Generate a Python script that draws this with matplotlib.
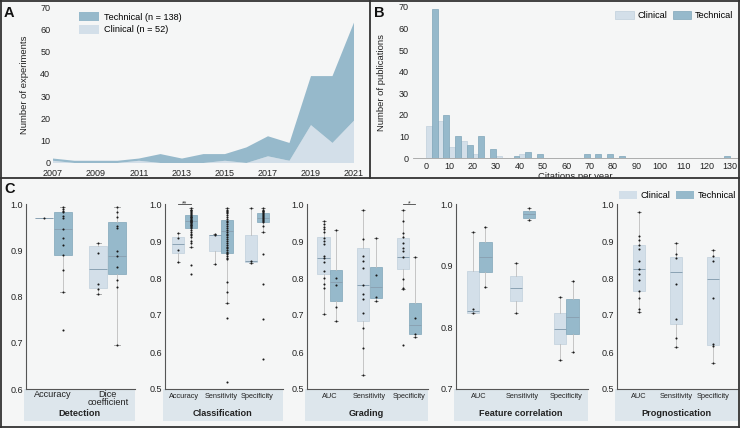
import matplotlib
matplotlib.use("Agg")
import matplotlib.pyplot as plt
from matplotlib.patches import Rectangle
from matplotlib.lines import Line2D
import numpy as np

plt.rcParams['font.family'] = ['Liberation Sans', 'DejaVu Sans']

# ---- panel A: experiments per year
years = [2007, 2008, 2009, 2010, 2011, 2012, 2013, 2014, 2015, 2016, 2017, 2018, 2019, 2020, 2021]
clin_exp = [1, 0, 0, 0, 1, 0, 0, 0, 1, 0, 3, 1, 17, 9, 19]
tech_exp = [1, 1, 1, 1, 1, 4, 2, 4, 3, 7, 9, 8, 22, 30, 44]

# ---- panel B: citations per year (bins of 5)
cit_bins = list(range(0, 130, 5))
clin_pubs = [15, 17, 5, 8, 2, 0, 1, 0, 2, 0, 0, 0, 0, 0, 0, 0, 0, 0, 0, 0, 0, 0, 0, 0, 0, 0]
tech_pubs = [69, 20, 10, 6, 10, 4, 0, 1, 3, 2, 0, 0, 0, 2, 2, 2, 1, 0, 0, 0, 0, 0, 0, 0, 0, 1]

# ---- panel C: box stats (whislo, q1, med, q3, whishi) and points
det_cats = ['Accuracy', 'Dice\ncoefficient']
det_clin_box = [(0.97, 0.97, 0.97, 0.97, 0.97), (0.806, 0.818, 0.860, 0.909, 0.915)]
det_clin_pts = [[0.97], [0.915, 0.895, 0.828, 0.816, 0.806]]
det_tech_box = [(0.81, 0.889, 0.947, 0.982, 0.993), (0.695, 0.849, 0.887, 0.961, 0.993)]
det_tech_pts = [[0.993, 0.99, 0.985, 0.982, 0.975, 0.969, 0.947, 0.927, 0.911, 0.889, 0.858, 0.81, 0.727],
                [0.993, 0.982, 0.971, 0.953, 0.949, 0.898, 0.887, 0.864, 0.836, 0.82, 0.695]]

cls_cats = ['Accuracy', 'Sensitivity', 'Specificity']
cls_clin_box = [(0.844, 0.867, 0.892, 0.910, 0.922), (0.839, 0.874, 0.916, 0.917, 0.920),
                (0.841, 0.844, 0.847, 0.917, 0.988)]
cls_clin_pts = [[0.922, 0.908, 0.876, 0.844], [0.92, 0.916, 0.839], [0.988, 0.847, 0.841]]
cls_tech_box = [(0.885, 0.936, 0.954, 0.970, 0.988), (0.732, 0.867, 0.928, 0.957, 0.988),
                (0.925, 0.952, 0.963, 0.975, 0.988)]
cls_tech_pts = [[0.988, 0.985, 0.983, 0.98, 0.978, 0.975, 0.972, 0.97, 0.968, 0.966, 0.964, 0.962,
                 0.96, 0.958, 0.956, 0.955, 0.953, 0.952, 0.95, 0.948, 0.946, 0.944, 0.942, 0.94,
                 0.938, 0.935, 0.93, 0.925, 0.92, 0.915, 0.91, 0.9, 0.895, 0.885, 0.835, 0.81],
                [0.988, 0.985, 0.982, 0.978, 0.975, 0.97, 0.965, 0.96, 0.955, 0.95, 0.945, 0.94,
                 0.935, 0.93, 0.925, 0.92, 0.915, 0.91, 0.905, 0.9, 0.895, 0.89, 0.885, 0.88,
                 0.875, 0.87, 0.868, 0.865, 0.86, 0.855, 0.85, 0.789, 0.761, 0.732, 0.693, 0.52],
                [0.988, 0.985, 0.982, 0.98, 0.978, 0.975, 0.972, 0.97, 0.968, 0.965, 0.963, 0.96,
                 0.958, 0.955, 0.952, 0.94, 0.925, 0.865, 0.785, 0.69, 0.58]]

grd_cats = ['AUC', 'Sensitivity', 'Specificity']
grd_clin_box = [(0.703, 0.810, 0.855, 0.912, 0.955), (0.539, 0.685, 0.780, 0.881, 0.985),
                (0.769, 0.825, 0.857, 0.908, 0.985)]
grd_clin_pts = [[0.955, 0.946, 0.939, 0.933, 0.923, 0.907, 0.901, 0.892, 0.859, 0.855, 0.842,
                 0.819, 0.799, 0.783, 0.772, 0.703],
                [0.985, 0.905, 0.86, 0.845, 0.828, 0.78, 0.758, 0.742, 0.706, 0.664, 0.611, 0.539],
                [0.985, 0.955, 0.921, 0.91, 0.894, 0.881, 0.872, 0.857, 0.797, 0.774, 0.769, 0.62]]
grd_tech_box = [(0.684, 0.738, 0.790, 0.821, 0.931), (0.738, 0.745, 0.777, 0.831, 0.907),
                (0.640, 0.649, 0.673, 0.733, 0.857)]
grd_tech_pts = [[0.931, 0.801, 0.78, 0.722, 0.684], [0.907, 0.807, 0.749, 0.738],
                [0.857, 0.693, 0.649, 0.64]]

fc_cats = ['AUC', 'Sensitivity', 'Specificity']
fc_clin_box = [(0.823, 0.824, 0.827, 0.892, 0.955), (0.823, 0.843, 0.863, 0.884, 0.905),
               (0.747, 0.773, 0.798, 0.824, 0.850)]
fc_clin_pts = [[0.955, 0.83, 0.824], [0.905, 0.823], [0.85, 0.747]]
fc_tech_box = [(0.866, 0.890, 0.914, 0.939, 0.963), (0.974, 0.978, 0.984, 0.988, 0.994),
               (0.760, 0.789, 0.817, 0.846, 0.875)]
fc_tech_pts = [[0.963, 0.866], [0.994, 0.974], [0.875, 0.76]]

prg_cats = ['AUC', 'Sensitivity', 'Specificity']
prg_clin_box = [(0.708, 0.765, 0.824, 0.888, 0.979), (0.613, 0.676, 0.817, 0.857, 0.895),
                (0.569, 0.620, 0.797, 0.857, 0.875)]
prg_clin_pts = [[0.979, 0.913, 0.902, 0.888, 0.878, 0.846, 0.824, 0.812, 0.795, 0.765, 0.746, 0.717, 0.708],
                [0.895, 0.864, 0.853, 0.783, 0.689, 0.638, 0.613],
                [0.875, 0.86, 0.846, 0.747, 0.622, 0.615, 0.569]]

BG = '#f5f6f6'
BAND = '#dde6ec'
CLIN = '#d3dfe9'
TECH = '#96b9cb'
CLIN_E = '#c0cfdb'
TECH_E = '#7fa5b9'
TXT = '#222222'

W, H = 740, 428
fig = plt.figure(figsize=(W / 100, H / 100), dpi=100, facecolor=BG)


def px_axes(l, t, r, b, **kw):
    return fig.add_axes([l / W, 1 - b / H, (r - l) / W, (b - t) / H], **kw)


def fig_rect(l, t, r, b, color, z):
    fig.add_artist(Rectangle((l / W, 1 - b / H), (r - l) / W, (b - t) / H,
                             transform=fig.transFigure, facecolor=color,
                             edgecolor='none', zorder=z))


# ================= A
axA = px_axes(53, 7, 354, 163)
axA.set_facecolor('none')
axA.stackplot(years, clin_exp, tech_exp, colors=[CLIN, TECH],
              labels=['Clinical (n = 52)', 'Technical (n = 138)'])
axA.set_xlim(2007, 2021)
axA.set_ylim(0, 70)
axA.set_xticks(range(2007, 2022, 2))
axA.set_yticks(range(0, 71, 10))
for s in axA.spines.values():
    s.set_visible(False)
axA.tick_params(length=0, labelsize=6.5, colors=TXT, pad=2)
axA.tick_params(axis='x', pad=4)
axA.set_ylabel('Number of experiments', fontsize=6.8, color=TXT)
axA.yaxis.set_label_coords(-0.08, 0.5)
h, lab = axA.get_legend_handles_labels()
axA.legend(h[::-1], lab[::-1], loc='upper left', bbox_to_anchor=(0.06, 1.02),
           frameon=False, fontsize=6.6, handlelength=2.2, handleheight=1.1,
           labelspacing=0.35, handletextpad=0.5)
fig.text(4 / W, 1 - 13 / H, 'A', fontsize=10.5, fontweight='bold', va='center', color='#111')

# ================= B
axB = px_axes(413, 7, 738, 158)
axB.set_facecolor('none')
cb = np.array(cit_bins)
axB.bar(cb + 1.25, clin_pubs, width=2.5, color=CLIN, edgecolor=CLIN_E, linewidth=0.5, label='Clinical')
axB.bar(cb + 3.75, tech_pubs, width=2.5, color=TECH, edgecolor=TECH_E, linewidth=0.5, label='Technical')
axB.set_xlim(-5.5, 133.5)
axB.set_ylim(0, 70)
axB.set_xticks(range(0, 131, 10))
axB.set_yticks(range(0, 71, 10))
for k in ['top', 'right', 'left']:
    axB.spines[k].set_visible(False)
axB.spines['bottom'].set_color('#a0a0a0')
axB.spines['bottom'].set_linewidth(0.6)
axB.tick_params(length=0, labelsize=6.5, colors=TXT, pad=3)
axB.set_ylabel('Number of publications', fontsize=6.8, color=TXT)
axB.yaxis.set_label_coords(-0.082, 0.5)
axB.set_xlabel('Citations per year', fontsize=6.8, color=TXT)
axB.xaxis.set_label_coords(0.5, -0.095)
axB.legend(loc='upper right', bbox_to_anchor=(1.01, 1.03), ncol=2, frameon=False,
           fontsize=6.6, handlelength=2.0, handleheight=1.0, columnspacing=0.6,
           handletextpad=0.4)
fig.text(374 / W, 1 - 13 / H, 'B', fontsize=10.5, fontweight='bold', va='center', color='#111')

# cover for panel C (hides the bottom of B's x label, as in the figure)
fig_rect(0, 178, W, H, BG, 0.5)


# ================= C
def draw_group(ax, cats, clin_box, clin_pts, tech_box, tech_pts, bw):
    n = len(cats)
    x = np.arange(n)
    groups = [(clin_box, clin_pts, CLIN, CLIN_E, -bw / 2 if tech_box else 0.0)]
    if tech_box:
        groups.append((tech_box, tech_pts, TECH, TECH_E, bw / 2))
    for box, pts, fc, ec, off in groups:
        stats = [dict(whislo=b[0], q1=b[1], med=b[2], q3=b[3], whishi=b[4], fliers=[])
                 for b in box]
        ax.bxp(stats, positions=x + off, widths=bw * 0.97, patch_artist=True,
               showfliers=False, capwidths=bw * 0.3,
               boxprops=dict(facecolor=fc, edgecolor=ec, linewidth=0.5),
               medianprops=dict(color='#8aa2b3', linewidth=0.7),
               whiskerprops=dict(color='#bdbdbd', linewidth=0.6),
               capprops=dict(color='#9a9a9a', linewidth=0.6))
        for xi, p in zip(x + off, pts):
            ax.plot([xi] * len(p), p, 'o', ms=1.5, color='#1a1a1a', mec='none', zorder=5)
    ax.set_xticks(x)
    ax.set_xticklabels(cats)


panels = [
    (26, 135, (-0.5, 1.5), (0.6, 1.0), det_cats, det_clin_box, det_clin_pts, det_tech_box, det_tech_pts, 0.34, 'Detection', 6.6),
    (165, 283, (-0.54, 2.72), (0.5, 1.0), cls_cats, cls_clin_box, cls_clin_pts, cls_tech_box, cls_tech_pts, 0.34, 'Classification', 5.3),
    (307, 428, (-0.58, 2.48), (0.5, 1.0), grd_cats, grd_clin_box, grd_clin_pts, grd_tech_box, grd_tech_pts, 0.32, 'Grading', 5.3),
    (456, 588, (-0.53, 2.5), (0.7, 1.0), fc_cats, fc_clin_box, fc_clin_pts, fc_tech_box, fc_tech_pts, 0.29, 'Feature correlation', 5.3),
    (617, 738, (-0.59, 2.68), (0.5, 1.0), prg_cats, prg_clin_box, prg_clin_pts, None, None, 0.34, 'Prognostication', 5.3),
]

axes_c = []
for l, r, xl, yl, cats, cb_, cp, tb, tp, bw, title, fs in panels:
    fig_rect(l - 2, 389, r, 421, BAND, 0.6)
    ax = px_axes(l, 204, r, 389, zorder=1)
    ax.set_facecolor('none')
    draw_group(ax, cats, cb_, cp, tb, tp, bw)
    ax.set_xlim(*xl)
    ax.set_ylim(*yl)
    ax.set_yticks(np.arange(yl[0], yl[1] + 0.001, 0.1))
    ax.set_yticklabels([f'{v:.1f}' for v in np.arange(yl[0], yl[1] + 0.001, 0.1)])
    for k in ['top', 'right']:
        ax.spines[k].set_visible(False)
    for k in ['left', 'bottom']:
        ax.spines[k].set_color('#555555')
        ax.spines[k].set_linewidth(0.8)
    ax.tick_params(axis='y', length=0, labelsize=6.5, colors=TXT, pad=2)
    ax.tick_params(axis='x', length=0, labelsize=fs, colors=TXT, pad=1 if fs > 6 else 3)
    for t in ax.get_xticklabels():
        t.set_linespacing(0.75)
    fig.text((l - 2 + r) / 2 / W, 1 - 414 / H, title, ha='center', va='center',
             fontsize=6.6, fontweight='bold', color=TXT, zorder=3)
    axes_c.append(ax)

# significance brackets
for ax, xc, mark in [(axes_c[1], 0, '**'), (axes_c[2], 2, '*')]:
    bw = 0.34 if ax is axes_c[1] else 0.32
    ax.plot([xc - bw / 2, xc + bw / 2], [1.0, 1.0], color='#444444', lw=0.6, clip_on=False)
    ax.text(xc, 1.0, mark, ha='center', va='center', fontsize=5, color='#333333')

axes_c[4].legend(handles=[Rectangle((0, 0), 1, 1, fc=CLIN, ec='none'),
                          Rectangle((0, 0), 1, 1, fc=TECH, ec='none')],
                 labels=['Clinical', 'Technical'], loc='upper right',
                 bbox_to_anchor=(740 / W, 1 - 187 / H), bbox_transform=fig.transFigure,
                 ncol=2, frameon=False, fontsize=6.6, handlelength=2.0, handleheight=1.0,
                 columnspacing=0.6, handletextpad=0.4, borderaxespad=0)
fig.text(4 / W, 1 - 189 / H, 'C', fontsize=10.5, fontweight='bold', va='center', color='#111', zorder=3)

# panel borders
for (x0, y0, x1, y1) in [(0.8, 0, 0.8, H), (W - 0.8, 0, W - 0.8, H), (0, 0.8, W, 0.8),
                         (0, H - 0.8, W, H - 0.8), (0, 178, W, 178), (370, 0, 370, 178)]:
    fig.add_artist(Line2D([x0 / W, x1 / W], [1 - y0 / H, 1 - y1 / H], transform=fig.transFigure,
                          color='#333333', lw=1.3, zorder=10))

fig.savefig('out.png', dpi=100, facecolor=BG)
